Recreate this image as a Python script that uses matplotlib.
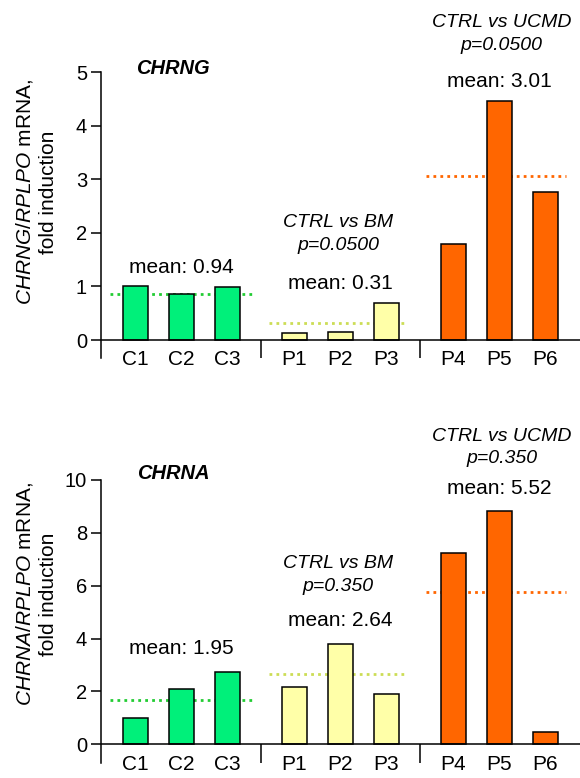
import numpy as np
import matplotlib.pyplot as plt

plt.rcParams['font.family'] = ['Liberation Sans', 'DejaVu Sans']
plt.rcParams['mathtext.fontset'] = 'custom'
plt.rcParams['mathtext.rm'] = 'Liberation Sans'
plt.rcParams['mathtext.it'] = 'Liberation Sans:italic'

# data
samples = ['C1', 'C2', 'C3', 'P1', 'P2', 'P3', 'P4', 'P5', 'P6']
groups = ['CTRL', 'BM', 'UCMD']
chrng = [1.00, 0.86, 0.99, 0.13, 0.15, 0.69, 1.79, 4.46, 2.76]
chrng_meanline = [0.86, 0.32, 3.06]
chrng_mean_txt = ['mean: 0.94', 'mean: 0.31', 'mean: 3.01']
chrng_p = ['p=0.0500', 'p=0.0500']
chrna = [0.98, 2.08, 2.75, 2.17, 3.79, 1.90, 7.23, 8.82, 0.48]
chrna_meanline = [1.68, 2.66, 5.77]
chrna_mean_txt = ['mean: 1.95', 'mean: 2.64', 'mean: 5.52']
chrna_p = ['p=0.350', 'p=0.350']

bar_cols = ['#00F07A', '#FFFFA8', '#FF6600']
line_cols = ['#22CC33', '#CCDD55', '#FF6600']

xpos = np.array([0, 1, 2, 3.45, 4.45, 5.45, 6.9, 7.9, 8.9])
seps = [2.725, 6.175]
line_span = [(-0.55, 2.55), (2.9, 5.9), (6.3, 9.35)]

fig = plt.figure(figsize=(5.8, 7.78), dpi=100)


def panel(rect, vals, meanline, mean_txt, pvals, gene, ymax, step, ybot,
          txt_y, lab_y):
    ax = fig.add_axes(rect)
    for g in range(3):
        idx = slice(3 * g, 3 * g + 3)
        ax.bar(xpos[idx], vals[idx], width=0.53, color=bar_cols[g],
               edgecolor='black', linewidth=1.1, zorder=3)
        ax.hlines(meanline[g], line_span[g][0], line_span[g][1],
                  colors=line_cols[g], linestyles=(0, (1, 1.5)),
                  linewidth=2, zorder=2)
    ax.set_xlim(-0.75, 9.65)
    ax.set_ylim(ybot, ymax)
    ax.axhline(0, color='black', linewidth=1.1, zorder=4)
    ax.vlines(seps, ybot, 0, colors='black', linewidth=1.1)
    for s in ['top', 'right', 'bottom']:
        ax.spines[s].set_visible(False)
    ax.spines['left'].set_linewidth(1.1)
    ax.spines['left'].set_bounds(ybot, ymax)
    ax.set_xticks([])
    ax.set_yticks(np.arange(0, ymax + 0.01, step))
    ax.tick_params(axis='y', length=7, width=1.1, labelsize=14.5, pad=3)
    for x, s in zip(xpos, samples):
        ax.text(x, lab_y, s, ha='center', va='center', fontsize=15)
    centers = [xpos[3 * g + 1] for g in range(3)]
    ax.text(0.82, txt_y[0], gene, ha='center', va='center', fontsize=14.5,
            fontweight='bold', fontstyle='italic')
    ax.text(centers[0], txt_y[1], mean_txt[0], ha='center', va='center',
            fontsize=15)
    # BM
    ax.text(centers[1] - 0.05, txt_y[2], 'CTRL vs BM', ha='center',
            va='center', fontsize=14, fontstyle='italic')
    ax.text(centers[1] - 0.05, txt_y[3], pvals[0], ha='center', va='center',
            fontsize=14, fontstyle='italic')
    ax.text(centers[1], txt_y[4], mean_txt[1], ha='center', va='center',
            fontsize=15)
    # UCMD
    ax.text(centers[2] + 0.05, txt_y[5], 'CTRL vs UCMD', ha='center',
            va='center', fontsize=14, fontstyle='italic', clip_on=False)
    ax.text(centers[2] + 0.05, txt_y[6], pvals[1], ha='center', va='center',
            fontsize=14, fontstyle='italic', clip_on=False)
    ax.text(centers[2], txt_y[7], mean_txt[2], ha='center', va='center',
            fontsize=15, clip_on=False)
    return ax


panel([0.1741, 0.5398, 0.8259, 0.3676], chrng, chrng_meanline,
      chrng_mean_txt, chrng_p, 'CHRNG', 5, 1, -0.336,
      [5.07, 1.36, 2.20, 1.77, 1.06, 5.93, 5.50, 4.83], -0.355)
panel([0.1741, 0.0193, 0.8259, 0.3638], chrna, chrna_meanline,
      chrna_mean_txt, chrna_p, 'CHRNA', 10, 2, -0.71,
      [10.26, 3.64, 6.82, 5.95, 4.70, 11.66, 10.83, 9.66], -0.78)

# y labels
for yc, gene in [(1 - 192 / 778, 'CHRNG'), (1 - 594 / 778, 'CHRNA')]:
    fig.text(25 / 580, yc, r'$\mathit{' + gene + r'/RPLPO}$ mRNA,',
             rotation=90, ha='center', va='center', fontsize=15)
    fig.text(49 / 580, yc, 'fold induction', rotation=90, ha='center',
             va='center', fontsize=15)

fig.savefig('out.png', dpi=100)
